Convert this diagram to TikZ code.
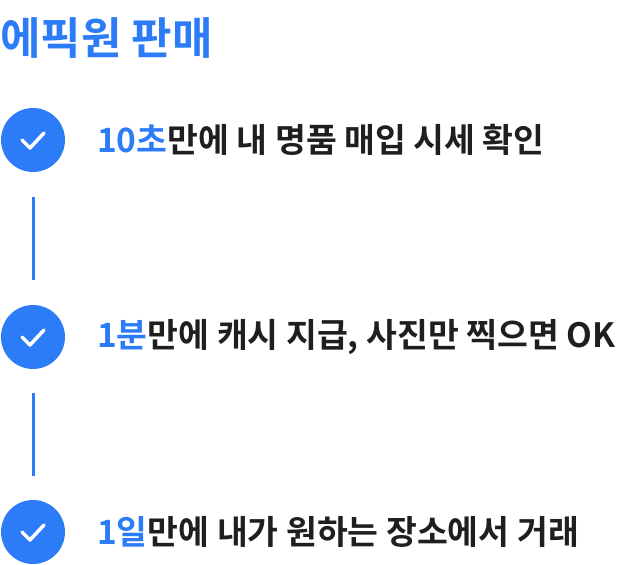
\documentclass[tikz,border=0pt]{standalone}
\usepackage{fontspec}
\setmainfont{Noto Sans CJK KR}[BoldFont={* Bold}]
\usetikzlibrary{calc}
\usetikzlibrary{positioning}
\definecolor{epicblue}{HTML}{2B7CF6}
\definecolor{epicdark}{HTML}{1F1F1F}
\tikzset{
  checkdot/.style={circle,fill=epicblue,minimum size=64pt,inner sep=0pt},
  steptext/.style={anchor=west,inner sep=0pt,text=epicdark,font=\fontsize{33.5}{36}\selectfont\bfseries},
  stepline/.style={epicblue,line width=3pt},
  tick/.style={white,line width=3.5pt,line cap=round,line join=round}
}
\newcommand{\hl}[1]{\textcolor{epicblue}{#1}}
\begin{document}
\begin{tikzpicture}[x=1pt,y=-1pt]
  \useasboundingbox (0,0) rectangle (619,565);
  \node[anchor=west,inner sep=0pt,text=epicblue,font=\fontsize{44}{48}\selectfont\bfseries] (title) at (0,38) {에픽원 판매};
  \foreach \name/\y in {one/140,two/337,three/532}{
    \node[checkdot] (\name) at (33,\y) {};
    \draw[tick] ($(\name)+(-11,0)$) -- ($(\name)+(-3,8)$) -- ($(\name)+(11,-7)$);
  }
  \node[steptext] (t1) at (97,140) {\hl{10초}만에 내 명품 매입 시세 확인};
  \node[steptext] (t2) at (97,337) {\hl{1분}만에 캐시 지급, 사진만 찍으면 OK};
  \node[steptext] (t3) at (97,532) {\hl{1일}만에 내가 원하는 장소에서 거래};
  \draw[stepline] ([yshift=-25pt]one.south) -- ([yshift=25pt]two.north);
  \draw[stepline] ([yshift=-24pt]two.south) -- ([yshift=24pt]three.north);
\end{tikzpicture}
\end{document}
